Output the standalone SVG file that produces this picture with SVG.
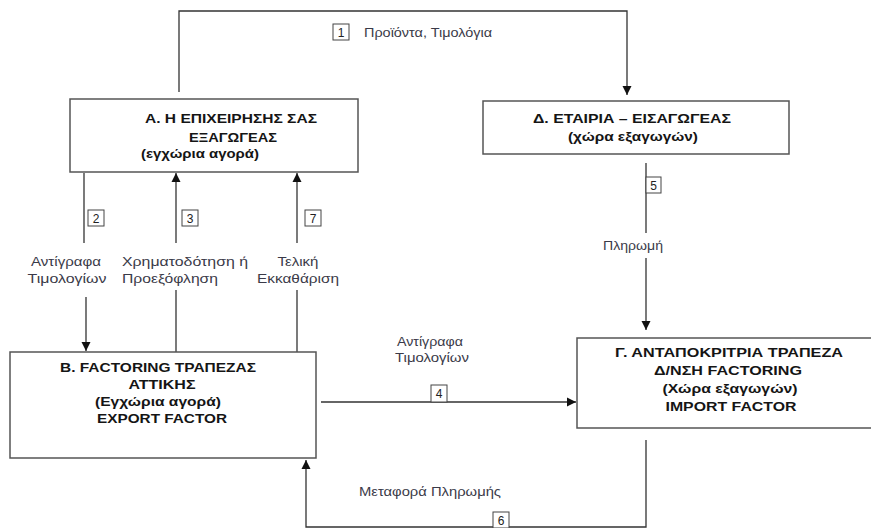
<svg xmlns="http://www.w3.org/2000/svg" width="871" height="528" viewBox="0 0 871 528">
<style>
.box{fill:#fff;stroke:#555;stroke-width:1.5}
.t{font-family:"Liberation Sans",Arial,sans-serif;font-weight:bold;font-size:13px;fill:#151515;text-anchor:middle}
.l{font-family:"Liberation Sans",Arial,sans-serif;font-size:12.5px;fill:#3a3a48;text-anchor:middle}
.c{fill:none;stroke:#333;stroke-width:1.3}
.nb{fill:#fff;stroke:#444;stroke-width:1}
.n{font-family:"Liberation Sans",Arial,sans-serif;font-size:12px;fill:#222;text-anchor:middle}
</style>
<defs>
<marker id="ah" viewBox="0 0 10 10" refX="10" refY="5" markerWidth="9" markerHeight="10" markerUnits="userSpaceOnUse" orient="auto"><path d="M0,0L10,5L0,10z" fill="#111"/></marker>
</defs>
<rect width="871" height="528" fill="#fff"/>

<g id="connectors">
<path class="c" d="M179,92V11H627V95" marker-end="url(#ah)"/>
<rect class="nb" x="333" y="24" width="16" height="16"/><text class="n" x="341" y="36.5">1</text>
<text class="l" x="428" y="37" textLength="128" lengthAdjust="spacingAndGlyphs">Προϊόντα, Τιμολόγια</text>

<path class="c" d="M84,173V243"/>
<path class="c" d="M86,297V351" marker-end="url(#ah)"/>
<rect class="nb" x="88" y="210" width="16" height="16"/><text class="n" x="96" y="222.5">2</text>
<text class="l" x="66" y="266" textLength="70" lengthAdjust="spacingAndGlyphs">Αντίγραφα</text>
<text class="l" x="67" y="283" textLength="79" lengthAdjust="spacingAndGlyphs">Τιμολογίων</text>

<path class="c" d="M176,243V173" marker-end="url(#ah)"/>
<path class="c" d="M176,290V352"/>
<rect class="nb" x="182" y="210" width="16" height="16"/><text class="n" x="190" y="222.5">3</text>
<text class="l" x="185" y="266" textLength="126" lengthAdjust="spacingAndGlyphs">Χρηματοδότηση ή</text>
<text class="l" x="170" y="283" textLength="96" lengthAdjust="spacingAndGlyphs">Προεξόφληση</text>

<path class="c" d="M297,243V173" marker-end="url(#ah)"/>
<path class="c" d="M297,290V352"/>
<rect class="nb" x="305" y="210" width="16" height="16"/><text class="n" x="313" y="222.5">7</text>
<text class="l" x="298" y="266" textLength="41" lengthAdjust="spacingAndGlyphs">Τελική</text>
<text class="l" x="298" y="283" textLength="82" lengthAdjust="spacingAndGlyphs">Εκκαθάριση</text>

<path class="c" d="M646,163V233"/>
<path class="c" d="M646,258V330" marker-end="url(#ah)"/>
<rect class="nb" x="646" y="177" width="15" height="16"/><text class="n" x="653.5" y="189.5">5</text>
<text class="l" x="633" y="250" textLength="60" lengthAdjust="spacingAndGlyphs">Πληρωμή</text>

<path class="c" d="M321,402H576" marker-end="url(#ah)"/>
<rect class="nb" x="431" y="385" width="16" height="17"/><text class="n" x="439" y="398">4</text>
<text class="l" x="430" y="346" textLength="66" lengthAdjust="spacingAndGlyphs">Αντίγραφα</text>
<text class="l" x="432" y="362" textLength="74" lengthAdjust="spacingAndGlyphs">Τιμολογίων</text>

<path class="c" d="M646,440V527H306V460" marker-end="url(#ah)"/>
<rect class="nb" x="493" y="512" width="16" height="16"/><text class="n" x="501" y="524.5">6</text>
<text class="l" x="430" y="496" textLength="142" lengthAdjust="spacingAndGlyphs">Μεταφορά Πληρωμής</text>
</g>

<g id="nodeA">
<rect class="box" x="70" y="99" width="288" height="73"/>
<text class="t" x="231" y="123" textLength="172" lengthAdjust="spacingAndGlyphs">Α. Η ΕΠΙΧΕΙΡΗΣΗΣ ΣΑΣ</text>
<text class="t" x="233" y="142" textLength="88" lengthAdjust="spacingAndGlyphs">ΕΞΑΓΩΓΕΑΣ</text>
<text class="t" x="200" y="158" textLength="118" lengthAdjust="spacingAndGlyphs">(εγχώρια αγορά)</text>
</g>

<g id="nodeD">
<rect class="box" x="483" y="101" width="306" height="53"/>
<text class="t" x="632" y="123" textLength="198" lengthAdjust="spacingAndGlyphs">Δ. ΕΤΑΙΡΙΑ – ΕΙΣΑΓΩΓΕΑΣ</text>
<text class="t" x="633" y="141" textLength="130" lengthAdjust="spacingAndGlyphs">(χώρα εξαγωγών)</text>
</g>

<g id="nodeB">
<rect class="box" x="10" y="352" width="306" height="106"/>
<text class="t" x="158" y="372" textLength="196" lengthAdjust="spacingAndGlyphs">Β.  FACTORING ΤΡΑΠΕΖΑΣ</text>
<text class="t" x="162" y="389" textLength="67" lengthAdjust="spacingAndGlyphs">ΑΤΤΙΚΗΣ</text>
<text class="t" x="158" y="406" textLength="126" lengthAdjust="spacingAndGlyphs">(Εγχώρια αγορά)</text>
<text class="t" x="162" y="423" textLength="130" lengthAdjust="spacingAndGlyphs">EXPORT FACTOR</text>
</g>

<g id="nodeG">
<rect class="box" x="577" y="338" width="304" height="90"/>
<text class="t" x="729" y="357" textLength="228" lengthAdjust="spacingAndGlyphs">Γ. ΑΝΤΑΠΟΚΡΙΤΡΙΑ ΤΡΑΠΕΖΑ</text>
<text class="t" x="728" y="375" textLength="148" lengthAdjust="spacingAndGlyphs">Δ/ΝΣΗ FACTORING</text>
<text class="t" x="730" y="393" textLength="135" lengthAdjust="spacingAndGlyphs">(Χώρα εξαγωγών)</text>
<text class="t" x="731" y="411" textLength="131" lengthAdjust="spacingAndGlyphs">IMPORT FACTOR</text>
</g>
</svg>
